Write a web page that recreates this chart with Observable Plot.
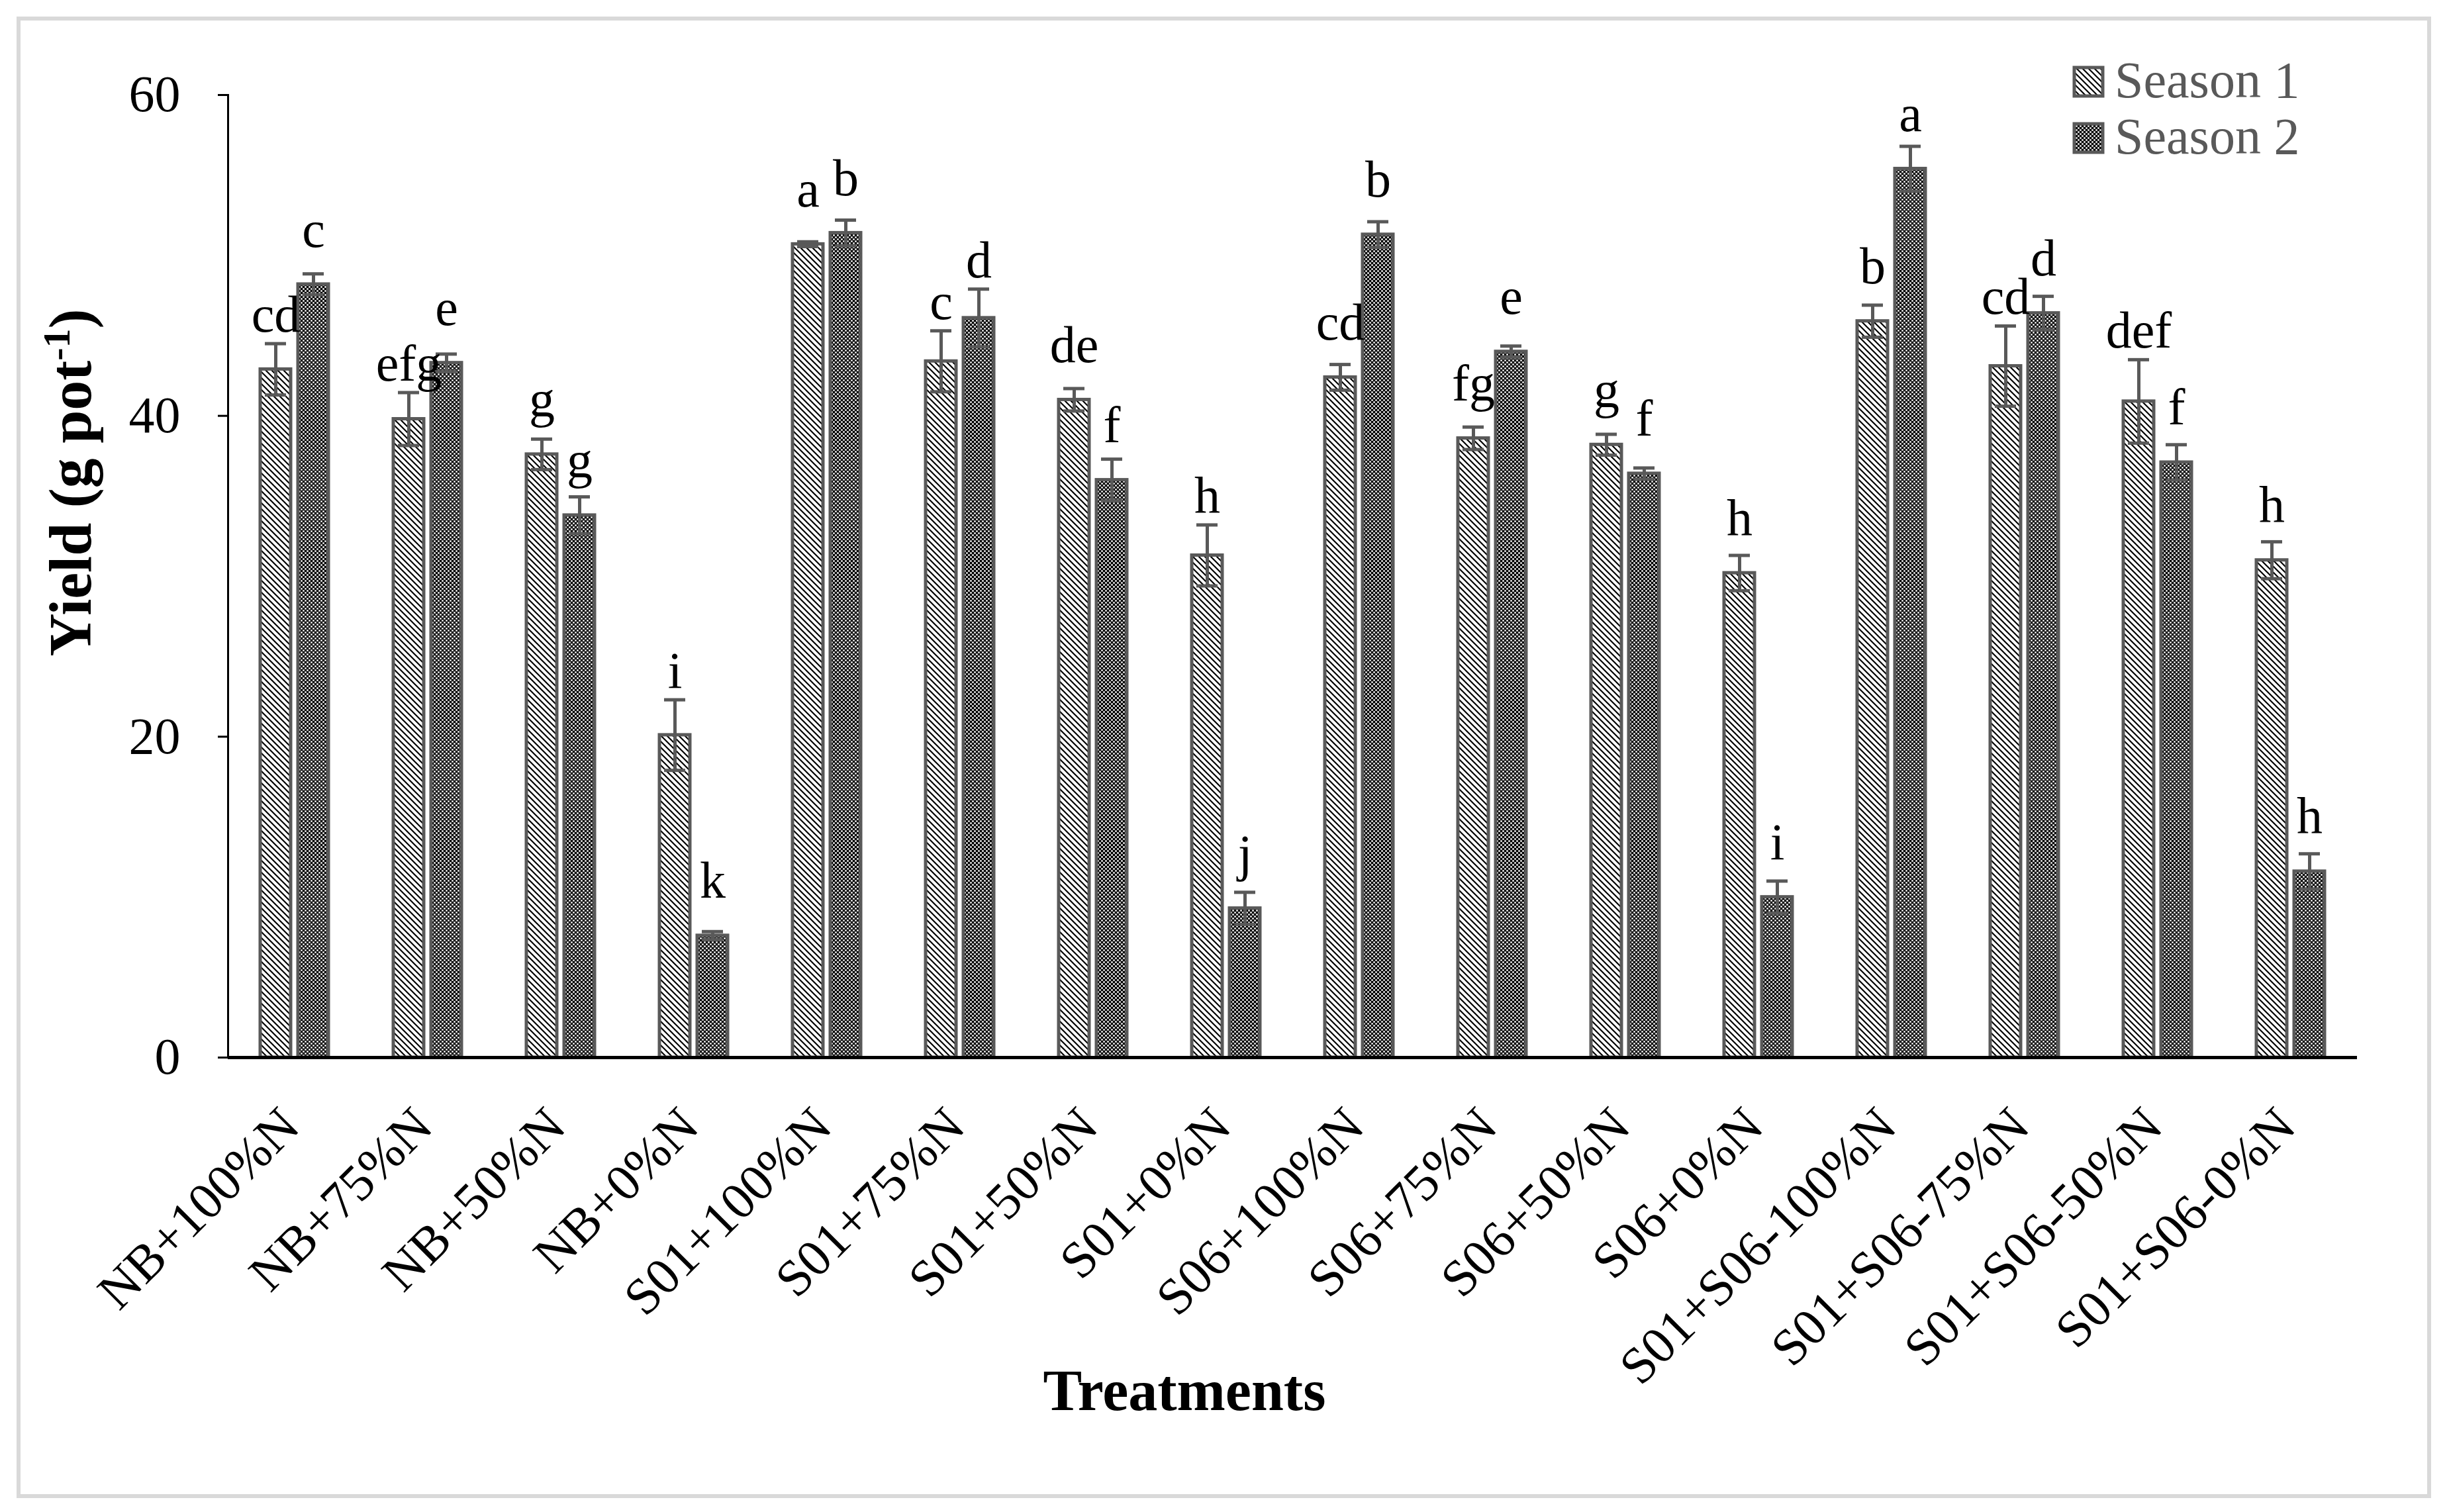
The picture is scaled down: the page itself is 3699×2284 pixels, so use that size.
<!DOCTYPE html>
<html>
<head>
<meta charset="utf-8">
<script src="https://cdn.jsdelivr.net/npm/d3@7"></script>
<script src="https://cdn.jsdelivr.net/npm/@observablehq/plot@0.6"></script>
<style>
  html, body { margin: 0; padding: 0; background: #ffffff; }
  #wrap { position: relative; width: 3699px; height: 2284px; overflow: hidden; background: #ffffff; }
  #border { position: absolute; left: 25px; top: 25px; width: 3647px; height: 2238px; border: 6px solid #d9d9d9; box-sizing: border-box; }
  #chart { position: absolute; left: 0; top: 0; }
  #overlay { position: absolute; left: 0; top: 0; }
</style>
</head>
<body>
<div id="wrap">
  <div id="border"></div>
  <svg width="0" height="0" style="position:absolute">
    <defs>
      <pattern id="pat-s1" patternUnits="userSpaceOnUse" width="9" height="9">
        <rect width="9" height="9" fill="#ffffff"/>
        <path d="M-2,-2 L11,11 M-2,7 L2,11 M7,-2 L11,2" stroke="#000000" stroke-width="2.2"/>
      </pattern>
      <pattern id="pat-s2" patternUnits="userSpaceOnUse" width="6" height="6">
        <rect width="6" height="6" fill="#000000"/>
        <rect x="0.25" y="0.25" width="2.5" height="2.5" fill="#ffffff"/>
        <rect x="3.25" y="3.25" width="2.5" height="2.5" fill="#ffffff"/>
      </pattern>
    </defs>
  </svg>
  <div id="chart"></div>
  <svg id="overlay" width="3699" height="2284" font-family="'Liberation Serif','Times New Roman',serif">
    <text id="ytitle" transform="translate(137,729) rotate(-90)" text-anchor="middle" font-weight="bold" font-size="90" fill="#000">Yield (g pot<tspan dy="-32" font-size="58">-1</tspan><tspan dy="32">)</tspan></text>
    <text id="xtitle" x="1789" y="2130" text-anchor="middle" font-weight="bold" font-size="88" fill="#000">Treatments</text>
    <g id="legend"></g>
  </svg>
</div>
<script>
// ---------------- data ----------------
const treatments = [
  "NB+100%N", "NB+75%N", "NB+50%N", "NB+0%N",
  "S01+100%N", "S01+75%N", "S01+50%N", "S01+0%N",
  "S06+100%N", "S06+75%N", "S06+50%N", "S06+0%N",
  "S01+S06-100%N", "S01+S06-75%N", "S01+S06-50%N", "S01+S06-0%N"
];
const seasons = ["Season 1", "Season 2"];
const season1 = [42.9, 39.8, 37.6, 20.1, 50.7, 43.4, 41.0, 31.3, 42.4, 38.6, 38.2, 30.2, 45.9, 43.1, 40.9, 31.0];
const season1Err = [1.6, 1.65, 0.95, 2.2, 0.15, 1.9, 0.7, 1.9, 0.8, 0.7, 0.65, 1.1, 1.0, 2.5, 2.6, 1.15];
const season2 = [48.2, 43.3, 33.8, 7.6, 51.4, 46.1, 36.0, 9.3, 51.3, 44.0, 36.4, 10.0, 55.4, 46.4, 37.1, 11.6];
const season2Err = [0.65, 0.55, 1.15, 0.25, 0.8, 1.8, 1.3, 1.0, 0.8, 0.35, 0.35, 1.0, 1.4, 1.05, 1.1, 1.1];
const season1Letters = ["cd", "efg", "g", "i", "a", "c", "de", "h", "cd", "fg", "g", "h", "b", "cd", "def", "h"];
const season2Letters = ["c", "e", "g", "k", "b", "d", "f", "j", "b", "e", "f", "i", "a", "d", "f", "h"];
const yTicks = [0, 20, 40, 60];

// ---------------- table for Plot ----------------
const rows = treatments.flatMap((t, i) => [
  {treatment: t, season: seasons[0], value: season1[i], err: season1Err[i], letter: season1Letters[i]},
  {treatment: t, season: seasons[1], value: season2[i], err: season2Err[i], letter: season2Letters[i]}
]);

const FONT = "'Liberation Serif','Times New Roman',serif";
const GREY = "#595959";

const chart = Plot.plot({
  width: 3699,
  height: 2284,
  marginLeft: 340,
  marginRight: 136,
  marginTop: 143,
  marginBottom: 687,
  style: {fontFamily: FONT, fontSize: "78px", background: "transparent", color: "#000", overflow: "visible"},
  fx: {domain: treatments, padding: 0, axis: null, label: null},
  x: {domain: seasons, paddingInner: 0.19, paddingOuter: 0.831, axis: null},
  y: {domain: [0, 60], axis: null},
  color: {type: "ordinal", domain: seasons, range: ["url(#pat-s1)", "url(#pat-s2)"]},
  marks: [
    Plot.barY(rows, {fx: "treatment", x: "season", y: "value", fill: "season", stroke: GREY, strokeWidth: 5}),
    Plot.ruleX(rows, {fx: "treatment", x: "season", y1: d => d.value - d.err, y2: d => d.value + d.err, stroke: GREY, strokeWidth: 5}),
    Plot.tickY(rows, {fx: "treatment", x: "season", y: d => d.value + d.err, stroke: GREY, strokeWidth: 5, insetLeft: 7, insetRight: 7}),
    Plot.tickY(rows, {fx: "treatment", x: "season", y: d => d.value - d.err, stroke: GREY, strokeWidth: 5, insetLeft: 7, insetRight: 7}),
    Plot.text(rows, {
      fx: "treatment", x: "season",
      y: d => Math.max(d.value + 2.35, d.value + d.err + 0.75),
      text: "letter", lineAnchor: "bottom", fontSize: 78, fill: "#000"
    }),
    Plot.ruleY([0], {stroke: "#000", strokeWidth: 5}),
    Plot.frame({anchor: "left", facetAnchor: "left", stroke: "#000", strokeWidth: 3}),
    Plot.axisY({ticks: yTicks, tickSize: 15, tickPadding: 57, fontSize: 78, label: null, strokeWidth: 3, tickFormat: d => String(d)}),
    Plot.text(treatments, {
      fx: d => d, text: d => d, frameAnchor: "bottom",
      rotate: -45, textAnchor: "end", lineAnchor: "bottom",
      dx: 11, dy: 108, fontSize: 78, fill: "#000"
    })
  ]
});
document.getElementById("chart").appendChild(chart);

// ---------------- legend ----------------
const legend = d3.select("#legend");
const legendRows = [
  {label: seasons[0], fill: "url(#pat-s1)", y: 100},
  {label: seasons[1], fill: "url(#pat-s2)", y: 185}
];
legendRows.forEach(r => {
  legend.append("rect").attr("x", 3133).attr("y", r.y + 2).attr("width", 43).attr("height", 43)
    .attr("fill", r.fill).attr("stroke", GREY).attr("stroke-width", 5);
  legend.append("text").attr("x", 3194).attr("y", r.y + 47).attr("font-size", 78).attr("fill", GREY).text(r.label);
});
</script>
</body>
</html>
